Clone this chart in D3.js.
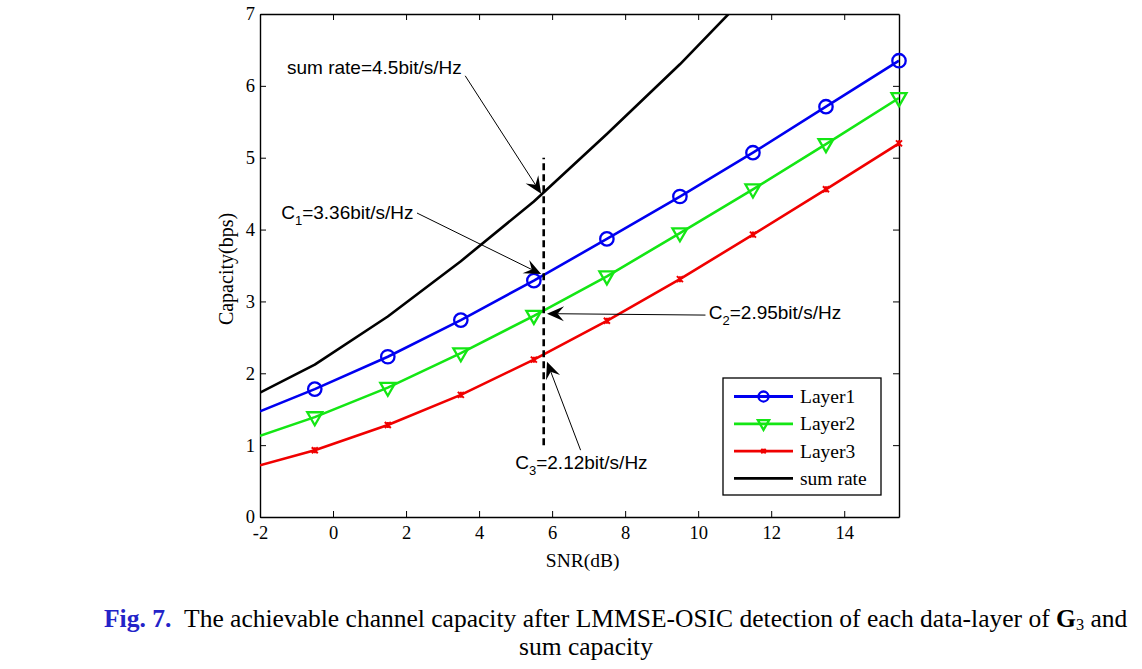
<!DOCTYPE html>
<html>
<head>
<meta charset="utf-8">
<script src="https://cdn.jsdelivr.net/npm/d3@7"></script>
<style>
html,body{margin:0;padding:0;background:#fff;}
svg{display:block;}
</style>
</head>
<body>
<svg id="chart" width="1142" height="669"></svg>
<script>
// ---------- data ----------
const snr = [-2, -0.5, 1.5, 3.5, 5.5, 7.5, 9.5, 11.5, 13.5, 15.5];
const layer1 = [1.47, 1.78, 2.23, 2.74, 3.29, 3.87, 4.46, 5.07, 5.71, 6.35];
const layer2 = [1.13, 1.39, 1.80, 2.28, 2.80, 3.35, 3.95, 4.56, 5.19, 5.83];
const layer3 = [0.72, 0.93, 1.28, 1.70, 2.19, 2.73, 3.31, 3.93, 4.56, 5.20];
const sumRateSnr = [-2, -0.5, 1.5, 3.5, 5.5, 7.5, 9.5, 11.5];
const sumRate = [1.73, 2.12, 2.79, 3.56, 4.39, 5.33, 6.30, 7.35];
const seriesNames = ["Layer1", "Layer2", "Layer3", "sum rate"];
const xTicks = [-2, 0, 2, 4, 6, 8, 10, 12, 14];
const yTicks = [0, 1, 2, 3, 4, 5, 6, 7];
const xDomain = [-2, 15.5];
const yDomain = [0, 7];
const cutSnr = 5.77;          // dashed reference line position
const cutRange = [1, 5];      // its vertical extent (bps)
const annoMain = ["sum rate=4.5bit/s/Hz", "C", "C", "C"];
const annoSub = ["", "1", "2", "3"];
const annoRest = ["", "=3.36bit/s/Hz", "=2.95bit/s/Hz", "=2.12bit/s/Hz"];
const annoTextAt = [[-1.26, 6.16], [-1.42, 4.15], [10.29, 2.76], [4.99, 0.67]];
const annoFrom = [[3.62, 6.14], [2.30, 4.23], [10.20, 2.81], [6.78, 0.93]];
const annoTo = [[5.70, 4.50], [5.70, 3.38], [5.86, 2.83], [5.86, 2.16]];
const xLabel = "SNR(dB)";
const yLabel = "Capacity(bps)";

// ---------- setup ----------
const svg = d3.select("#chart");
const L = 260, R = 899, T = 14, B = 517;
const x = d3.scaleLinear().domain(xDomain).range([L, R]);
const y = d3.scaleLinear().domain(yDomain).range([B, T]);
const serif = "'Liberation Serif','Times New Roman',Times,serif";
const sans = "'Liberation Sans',Arial,Helvetica,sans-serif";
const colors = ["#0000f0", "#14e614", "#f00000", "#000000"];

svg.append("defs").append("clipPath").attr("id", "plotclip")
  .append("rect").attr("x", L).attr("y", T).attr("width", R - L).attr("height", B - T);

// ---------- axes ----------
function styleAxis(g) {
  g.selectAll("path.domain").attr("stroke", "#000").attr("stroke-width", 1.4);
  g.selectAll(".tick line").attr("stroke", "#000").attr("stroke-width", 1);
  g.selectAll(".tick text").attr("font-family", serif).attr("font-size", 18.5).attr("fill", "#000");
}
svg.append("g").attr("transform", `translate(0,${B})`)
  .call(d3.axisBottom(x).tickValues(xTicks).tickSize(-6).tickSizeOuter(0).tickPadding(9).tickFormat(d => String(d)))
  .call(styleAxis);
svg.append("g").attr("transform", `translate(0,${T})`)
  .call(d3.axisTop(x).tickValues(xTicks).tickSize(-6).tickSizeOuter(0).tickFormat(""))
  .call(styleAxis);
svg.append("g").attr("transform", `translate(${L},0)`)
  .call(d3.axisLeft(y).tickValues(yTicks).tickSize(-6).tickSizeOuter(0).tickPadding(5).tickFormat(d => String(d)))
  .call(styleAxis);
svg.append("g").attr("transform", `translate(${R},0)`)
  .call(d3.axisRight(y).tickValues(yTicks).tickSize(-6).tickSizeOuter(0).tickFormat(""))
  .call(styleAxis);

svg.append("text").attr("x", (x(6) + x(8)) / 2 - 6).attr("y", 567)
  .attr("text-anchor", "middle").attr("font-family", serif).attr("font-size", 19.5).text(xLabel);
svg.append("text").attr("transform", `translate(233,269) rotate(-90)`)
  .attr("text-anchor", "middle").attr("font-family", serif).attr("font-size", 20).text(yLabel);

// ---------- series ----------
const plot = svg.append("g").attr("clip-path", "url(#plotclip)");
const line = d3.line().x(d => x(d[0])).y(d => y(d[1]));
const seriesData = [
  d3.zip(snr, layer1), d3.zip(snr, layer2), d3.zip(snr, layer3), d3.zip(sumRateSnr, sumRate)
];
seriesData.forEach((pts, i) => {
  plot.append("path").datum(pts).attr("d", line)
    .attr("fill", "none").attr("stroke", colors[i]).attr("stroke-width", 2.6)
    .attr("stroke-linejoin", "round");
});

function marker(g, type, cx, cy, s) {
  if (type === 0) {
    g.append("circle").attr("cx", cx).attr("cy", cy).attr("r", 6.7 * s)
      .attr("fill", "none").attr("stroke", colors[0]).attr("stroke-width", 2.3);
  } else if (type === 1) {
    const w = 7.5 * s, h = 6.5 * s;
    g.append("path").attr("d", `M${cx - w},${cy - h * 0.75}L${cx + w},${cy - h * 0.75}L${cx},${cy + h * 1.25}Z`)
      .attr("fill", "none").attr("stroke", colors[1]).attr("stroke-width", 2.3).attr("stroke-linejoin", "miter");
  } else if (type === 2) {
    const a = 3 * s;
    g.append("path").attr("d", `M${cx - a},${cy - a}L${cx + a},${cy + a}M${cx - a},${cy + a}L${cx + a},${cy - a}M${cx},${cy - a}L${cx},${cy + a}`)
      .attr("stroke", colors[2]).attr("stroke-width", 2);
  }
}
const mk = svg.append("g");
[0, 1, 2].forEach(i => {
  seriesData[i].slice(1).forEach(p => marker(mk, i, x(p[0]), y(p[1]), 1));
});

// ---------- dashed reference line ----------
svg.append("line").attr("x1", x(cutSnr)).attr("x2", x(cutSnr))
  .attr("y1", y(cutRange[0])).attr("y2", y(cutRange[1]))
  .attr("stroke", "#000").attr("stroke-width", 2.6).attr("stroke-dasharray", "7,4");

// ---------- annotations ----------
const ann = svg.append("g");
annoMain.forEach((m, i) => {
  const t = ann.append("text").attr("x", x(annoTextAt[i][0])).attr("y", y(annoTextAt[i][1]))
    .attr("font-family", sans).attr("font-size", 19).attr("fill", "#000");
  t.append("tspan").text(m);
  if (annoSub[i]) {
    t.append("tspan").attr("font-size", 13).attr("dy", 6).text(annoSub[i]);
    t.append("tspan").attr("dy", -6).text(annoRest[i]);
  }
  const x0 = x(annoFrom[i][0]), y0 = y(annoFrom[i][1]);
  const x1 = x(annoTo[i][0]), y1 = y(annoTo[i][1]);
  const ang = Math.atan2(y1 - y0, x1 - x0) * 180 / Math.PI;
  const hl = 17, hw = 7.5, notch = 0.62;
  const dist = Math.hypot(x1 - x0, y1 - y0);
  const ux = (x1 - x0) / dist, uy = (y1 - y0) / dist;
  ann.append("line").attr("x1", x0).attr("y1", y0)
    .attr("x2", x1 - ux * hl * notch).attr("y2", y1 - uy * hl * notch)
    .attr("stroke", "#000").attr("stroke-width", 1);
  ann.append("path").attr("d", `M0,0L${-hl},${-hw}L${-hl * notch},0L${-hl},${hw}Z`)
    .attr("transform", `translate(${x1},${y1}) rotate(${ang})`).attr("fill", "#000");
});

// ---------- legend ----------
const lg = svg.append("g");
lg.append("rect").attr("x", 723).attr("y", 378).attr("width", 158).attr("height", 117)
  .attr("fill", "#fff").attr("stroke", "#000").attr("stroke-width", 1.3);
seriesNames.forEach((name, i) => {
  const yy = 396.5 + i * 27.3;
  lg.append("line").attr("x1", 734).attr("x2", 793).attr("y1", yy).attr("y2", yy)
    .attr("stroke", colors[i]).attr("stroke-width", 2.8);
  if (i < 3) marker(lg, i, 763.5, yy, 0.75);
  lg.append("text").attr("x", 800).attr("y", yy + 6.5).attr("font-family", serif)
    .attr("font-size", 19.5).attr("fill", "#000").text(name);
});

// ---------- caption ----------
const cap = svg.append("text").attr("x", 104).attr("y", 627)
  .attr("font-family", serif).attr("font-size", 25).attr("fill", "#000");
cap.append("tspan").attr("font-weight", "bold").attr("fill", "#2323c8").text("Fig. 7.");
cap.append("tspan").text("\u00a0\u00a0The achievable channel capacity after LMMSE-OSIC detection of each data-layer of ");
cap.append("tspan").attr("font-weight", "bold").text("G");
cap.append("tspan").attr("font-size", 16).attr("dy", 3).text("3");
cap.append("tspan").attr("dy", -3).text(" and");
const w1 = cap.node().getComputedTextLength();
const target = 1128 - 104;
cap.attr("transform", `translate(104,0) scale(${target / w1},1) translate(-104,0)`);
const cap2 = svg.append("text").attr("x", 586).attr("y", 655).attr("text-anchor", "middle")
  .attr("font-family", serif).attr("font-size", 25).attr("fill", "#000").text("sum capacity");
cap2.attr("transform", `translate(586,0) scale(${target / w1},1) translate(-586,0)`);
</script>
</body>
</html>
